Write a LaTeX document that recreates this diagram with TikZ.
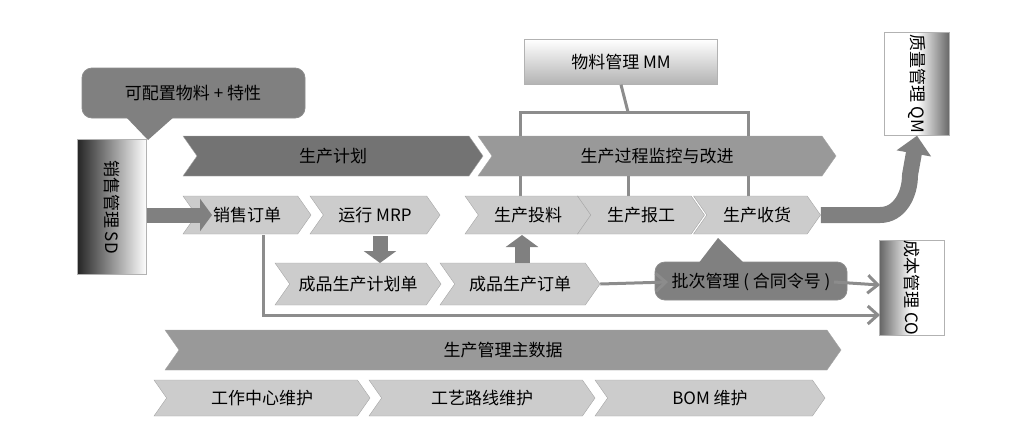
\documentclass[tikz,border=0pt]{standalone}
\usepackage{fontspec}
\setmainfont{Noto Sans CJK SC}
\usetikzlibrary{shapes.symbols,arrows.meta}
\begin{document}
\begin{tikzpicture}[x=1pt,y=-1pt,font=\fontsize{17}{20}\selectfont]
  \tikzset{chev/.style={signal,signal to=east,signal from=west,signal pointer angle=110,
             draw=black!35,fill=black!30,inner sep=0pt,minimum height=40pt,text=black},
           dark chev/.style={chev,fill=black!55},
           mid chev/.style={chev,fill=black!40},
           light chev/.style={chev,fill=black!20,minimum height=38pt},
           callout/.style={draw=black!45,fill=black!50,rounded corners=10pt,thick},
           module/.style={draw=black!30,inner sep=0pt},
           blockarrow/.style={draw=black!50,line width=15pt,-{Triangle[width=32pt,length=12pt]}},
           connector/.style={draw=black!45,line width=3pt},
           thin arrow/.style={draw=black!45,line width=3pt,-{Straight Barb[length=10pt,width=18pt]}}}
  \useasboundingbox (0,0) rectangle (1030,440);
  % side modules
  \node[module,minimum width=69pt,minimum height=135pt,left color=black!85,right color=white] (sd) at (112,207) {};
  \node[rotate=-90] at (sd) {销售管理 SD};
  \node[module,minimum width=65pt,minimum height=103pt,left color=white,right color=black!60,middle color=white] (qm) at (917,84) {};
  \node[rotate=-90] at (qm) {质量管理 QM};
  \node[module,minimum width=65pt,minimum height=95pt,left color=black!60,right color=white,middle color=white] (co) at (912,288) {};
  \node[rotate=-90] at (co) {成本管理 CO};
  \node[module,minimum width=193pt,minimum height=45pt,top color=white,bottom color=black!30] (mm) at (621,62) {物料管理 MM};
  % callouts
  \draw[callout] (82,68) rectangle (305,118);
  \node (cfg) at (193,93) {可配置物料 + 特性};
  \fill[black!50] (125,116) -- (148,140) -- (175,116) -- cycle;
  \draw[callout] (655,262) rectangle (847,300);
  \node (lot) at (751,282) {批次管理 ( 合同令号 )};
  \fill[black!50] (698,264) -- (718,238) -- (745,264) -- cycle;
  % top chevrons
  \node[dark chev,minimum width=300pt] (plan) at (333,156) {生产计划};
  \node[mid chev,minimum width=358pt] (mon) at (657,156) {生产过程监控与改进};
  % bracket to MM
  \draw[connector] (mm.south) -- (628,112);
  \draw[connector] (520,136) |- (748,112) -- (748,136);
  \foreach \x in {520,628,748} \draw[connector] (\x,176) -- (\x,196);
  % process row
  \node[light chev,minimum width=128pt] (so) at (247,215) {销售订单};
  \node[light chev,minimum width=130pt] (mrp) at (375,215) {运行 MRP};
  \node[light chev,minimum width=126pt] (issue) at (528,215) {生产投料};
  \node[light chev,minimum width=127pt] (conf) at (641,215) {生产报工};
  \node[light chev,minimum width=127pt] (gr) at (757,215) {生产收货};
  \node[light chev,minimum width=166pt,minimum height=42pt] (pplan) at (358,284) {成品生产计划单};
  \node[light chev,minimum width=160pt,minimum height=42pt] (porder) at (520,284) {成品生产订单};
  % block arrows
  \draw[blockarrow] (sd.east |- so) -- (212,215);
  \draw[blockarrow] (380,236) -- (380,263);
  \draw[blockarrow] (522,263) -- (522,235);
  \draw[blockarrow,line width=16pt,-{Triangle[width=34pt,length=18pt]}] (gr.east) -- (880,215) to[out=0,in=-90] (910,175) -- (qm.south);
  % cost flows
  \draw[thin arrow] (porder.east) -- (lot.west);
  \draw[thin arrow] (lot.east) -- (880,285);
  \draw[thin arrow] (263,235) |- (880,315);
  % master data
  \node[mid chev,minimum width=676pt] (md) at (503,350) {生产管理主数据};
  \node[light chev,minimum width=216pt,minimum height=36pt] (wc) at (262,398) {工作中心维护};
  \node[light chev,minimum width=226pt,minimum height=36pt] (rt) at (482,398) {工艺路线维护};
  \node[light chev,minimum width=230pt,minimum height=36pt] (bom) at (710,398) {BOM 维护};
\end{tikzpicture}
\end{document}
